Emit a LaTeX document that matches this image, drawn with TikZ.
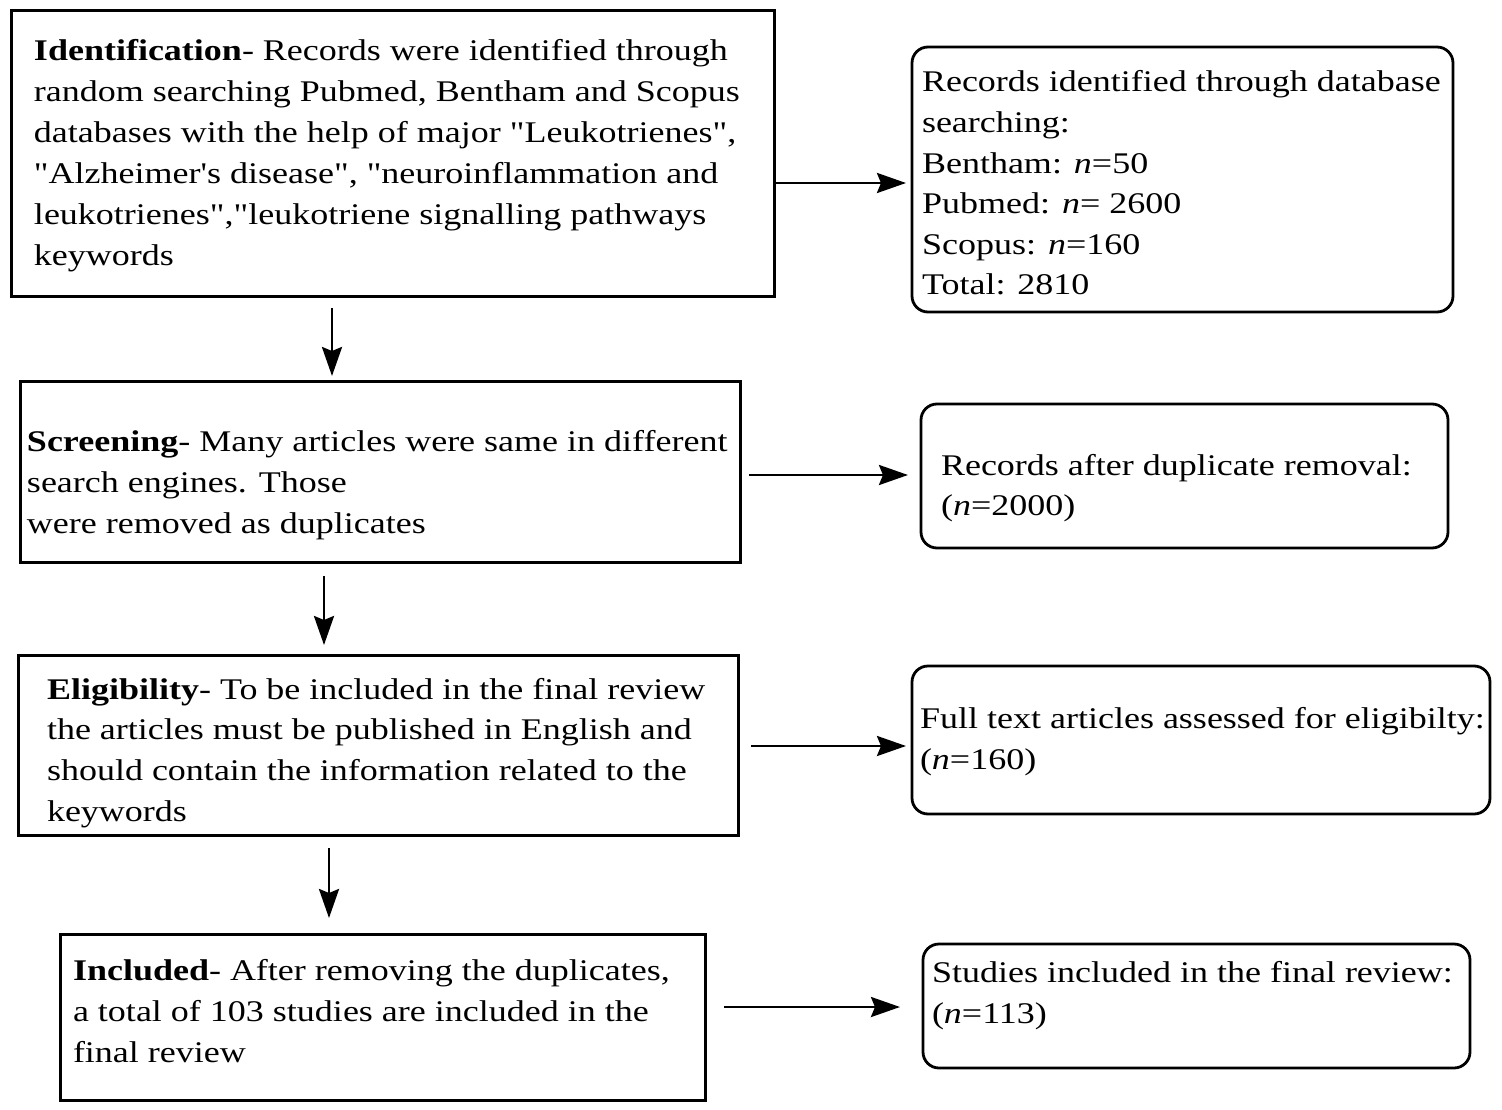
\documentclass[tikz,border=0pt]{standalone}
\usepackage{fontspec}
\newfontfamily\ser{Liberation Serif}[FakeStretch=1.2]
\usetikzlibrary{arrows.meta}
\newcommand\mlines[2]{\vtop{\baselineskip=#1\relax #2}}
\begin{document}
\begin{tikzpicture}[x=1pt,y=-1pt,
  lbox/.style={draw, line width=3pt, inner sep=0pt, outer sep=0pt},
  rbox/.style={draw, line width=2.8pt, rounded corners=16pt, inner sep=0pt, outer sep=0pt},
  txt/.style={anchor=base west, inner sep=0pt, outer sep=0pt, font=\ser\fontsize{30}{41}\selectfont},
  arr/.style={line width=2.8pt, -{Stealth[length=29pt,width=20pt,inset=4pt]}}]
\useasboundingbox (0,0) rectangle (1502,1110);
% boxes
\node[lbox, minimum width=763pt, minimum height=285pt] (b1) at (392.5,153.5) {};
\node[rbox, minimum width=541pt, minimum height=265pt] (r1) at (1182.5,179.5) {};
\node[lbox, minimum width=720pt, minimum height=181pt] (b2) at (380,471.5) {};
\node[rbox, minimum width=527pt, minimum height=144pt] (r2) at (1184.5,476) {};
\node[lbox, minimum width=720pt, minimum height=180pt] (b3) at (378,745) {};
\node[rbox, minimum width=578pt, minimum height=148pt] (r3) at (1201,740) {};
\node[lbox, minimum width=645pt, minimum height=166pt] (b4) at (382.5,1017) {};
\node[rbox, minimum width=547pt, minimum height=124pt] (r4) at (1196.5,1006) {};
% texts
\node[txt] (t1) at (34,61) {\mlines{41pt}{%
\hbox{\textbf{Identification}- Records were identified through}%
\hbox{random searching Pubmed, Bentham and Scopus}%
\hbox{databases with the help of major "Leukotrienes",}%
\hbox{"Alzheimer's disease", "neuroinflammation and}%
\hbox{leukotrienes","leukotriene signalling pathways}%
\hbox{keywords}}};
\node[txt] (s1) at (922,92) {\mlines{40.6pt}{%
\hbox{Records identified through database}%
\hbox{searching:}%
\hbox{Bentham: \textit{n}=50}%
\hbox{Pubmed: \textit{n}= 2600}%
\hbox{Scopus: \textit{n}=160}%
\hbox{Total: 2810}}};
\node[txt] (t2) at (27,451) {\mlines{41pt}{%
\hbox{\textbf{Screening}- Many articles were same in different}%
\hbox{search engines. Those}%
\hbox{were removed as duplicates}}};
\node[txt] (s2) at (941,475) {\mlines{40.6pt}{%
\hbox{Records after duplicate removal:}%
\hbox{(\textit{n}=2000)}}};
\node[txt] (t3) at (47,699) {\mlines{40.7pt}{%
\hbox{\textbf{Eligibility}- To be included in the final review}%
\hbox{the articles must be published in English and}%
\hbox{should contain the information related to the}%
\hbox{keywords}}};
\node[txt] (s3) at (920,728) {\mlines{41pt}{%
\hbox{Full text articles assessed for eligibilty:}%
\hbox{(\textit{n}=160)}}};
\node[txt] (t4) at (73,980) {\mlines{41pt}{%
\hbox{\textbf{Included}- After removing the duplicates,}%
\hbox{a total of 103 studies are included in the}%
\hbox{final review}}};
\node[txt] (s4) at (932,982) {\mlines{41pt}{%
\hbox{Studies included in the final review:}%
\hbox{(\textit{n}=113)}}};
% connector levels
\coordinate (h1) at (0,183);
\coordinate (h2) at (0,475);
\coordinate (h3) at (0,746);
\coordinate (h4) at (0,1007);
\coordinate (v1) at (332,0);
\coordinate (v2) at (324,0);
\coordinate (v3) at (329,0);
% horizontal arrows
\draw[arr, shorten >=6pt] (b1.east |- h1) -- (r1.west |- h1);
\draw[arr, shorten <=9pt, shorten >=13pt] (b2.east |- h2) -- (r2.west |- h2);
\draw[arr, shorten <=13pt, shorten >=6pt] (b3.east |- h3) -- (r3.west |- h3);
\draw[arr, shorten <=19pt, shorten >=23pt] (b4.east |- h4) -- (r4.west |- h4);
% vertical arrows
\draw[arr, shorten <=12pt, shorten >=5pt] (v1 |- b1.south) -- (v1 |- b2.north);
\draw[arr, shorten <=14pt, shorten >=10pt] (v2 |- b2.south) -- (v2 |- b3.north);
\draw[arr, shorten <=13pt, shorten >=16pt] (v3 |- b3.south) -- (v3 |- b4.north);
\end{tikzpicture}
\end{document}
